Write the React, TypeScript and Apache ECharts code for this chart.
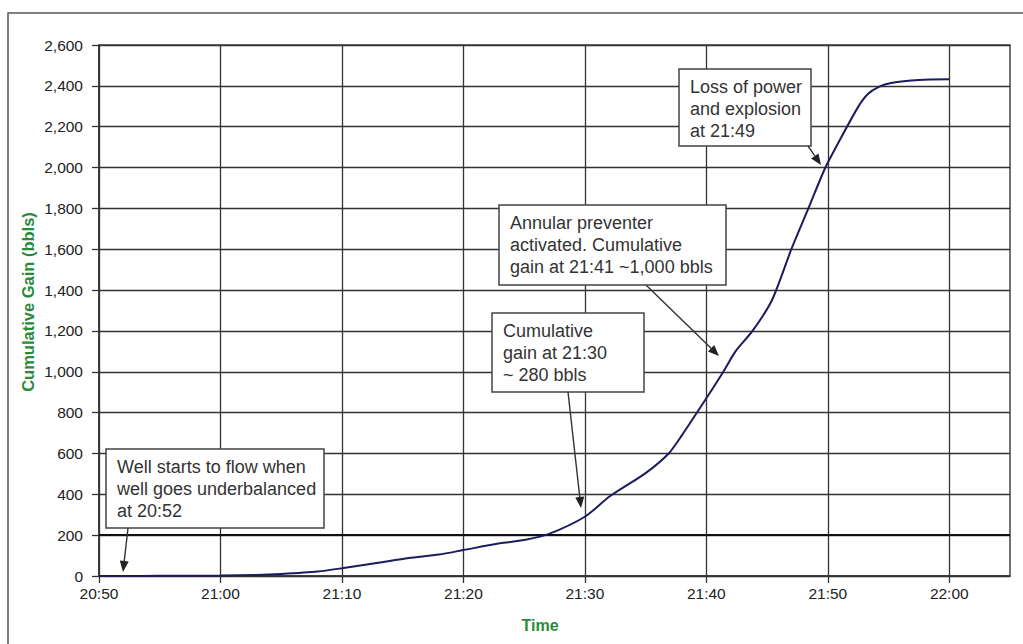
import React, { useEffect, useRef } from 'react';
import * as echarts from 'echarts';

// x tick labels (every 10 minutes from 20:50)
const tickLabels = ['20:50', '21:00', '21:10', '21:20', '21:30', '21:40', '21:50', '22:00'];

// minutes after 20:50
const minutesAfter2050 = [
  0, 2, 5, 10, 13, 15, 18, 20, 23, 25.5, 28, 30, 33, 35, 37, 40, 42, 45, 46.9, 48,
  50, 51.4, 52.4, 53.8, 55.4, 57, 58.4, 59.8, 60.9, 62.5, 63.3, 64.2, 65.2, 67.5, 70,
];
// cumulative gain (bbls)
const cumulativeGain = [
  0, 0, 1, 2, 5, 10, 22, 38, 65, 88, 105, 127, 160, 176, 205, 290, 388, 504, 600, 690,
  870, 1000, 1100, 1200, 1350, 1600, 1800, 2000, 2125, 2297, 2360, 2395, 2414, 2429, 2432,
];

const thresholdValue = 200;

const annotationTexts = [
  'Well starts to flow when\nwell goes underbalanced\nat 20:52',
  'Cumulative\ngain at 21:30\n~ 280 bbls',
  'Annular preventer\nactivated. Cumulative\ngain at 21:41 ~1,000 bbls',
  'Loss of power\nand explosion\nat 21:49',
];

const FONT = '"Liberation Sans", Arial, sans-serif';

// layout of annotation boxes / arrows (pixels)
const boxes = [
  { x: 106, y: 449, w: 218, h: 79 },
  { x: 492, y: 313, w: 152, h: 79 },
  { x: 499, y: 205, w: 227, h: 80 },
  { x: 679, y: 69, w: 132, h: 77 },
];
const arrows = [
  [128, 528, 123, 572],
  [568, 392, 581, 508],
  [646, 285, 719, 356],
  [808, 146, 821, 165],
];

function arrowElements(a: number[]) {
  const [x1, y1, x2, y2] = a;
  const dx = x2 - x1;
  const dy = y2 - y1;
  const len = Math.sqrt(dx * dx + dy * dy);
  const ux = dx / len;
  const uy = dy / len;
  const hl = 11;
  const hw = 4.5;
  const bx = x2 - ux * hl;
  const by = y2 - uy * hl;
  return [
    {
      type: 'line',
      shape: { x1, y1, x2: bx, y2: by },
      style: { stroke: '#333', lineWidth: 1.4 },
      z: 20,
    },
    {
      type: 'polygon',
      shape: {
        points: [
          [x2, y2],
          [bx - uy * hw, by + ux * hw],
          [bx + uy * hw, by - ux * hw],
        ],
      },
      style: { fill: '#222' },
      z: 20,
    },
  ];
}

export default function App() {
  const ref = useRef<HTMLDivElement>(null);

  useEffect(() => {
    if (!ref.current) return;
    const chart = echarts.init(ref.current, undefined, { renderer: 'svg' });

    const graphics: any[] = [
      {
        type: 'rect',
        shape: { x: 8, y: 13, width: 1200, height: 800 },
        style: { fill: 'none', stroke: '#555', lineWidth: 1.5 },
        z: 0,
        silent: true,
      },
      {
        type: 'text',
        x: 28,
        y: 302,
        rotation: Math.PI / 2,
        style: {
          text: 'Cumulative Gain (bbls)',
          fill: '#2a8a3a',
          font: `bold 16.5px ${FONT}`,
          align: 'center',
          verticalAlign: 'middle',
        },
        z: 10,
      },
      {
        type: 'text',
        x: 540,
        y: 625,
        style: {
          text: 'Time',
          fill: '#2a8a3a',
          font: `bold 16px ${FONT}`,
          align: 'center',
          verticalAlign: 'middle',
        },
        z: 10,
      },
    ];

    boxes.forEach((b, i) => {
      graphics.push({
        type: 'rect',
        shape: { x: b.x, y: b.y, width: b.w, height: b.h },
        style: { fill: '#fff', stroke: '#444', lineWidth: 1.5 },
        z: 15,
      });
      graphics.push({
        type: 'text',
        x: b.x + 11,
        y: b.y + 7,
        style: {
          text: annotationTexts[i],
          fill: '#333',
          font: `18px ${FONT}`,
          lineHeight: 22,
          align: 'left',
          verticalAlign: 'top',
        },
        z: 16,
      });
    });
    arrows.forEach((a) => graphics.push(...arrowElements(a)));

    chart.setOption({
      animation: false,
      backgroundColor: '#fff',
      grid: {
        left: 99,
        right: 13,
        top: 45,
        bottom: 68,
        show: true,
        borderColor: '#444',
        borderWidth: 1.5,
        backgroundColor: 'transparent',
      },
      xAxis: {
        type: 'value',
        min: 0,
        max: 75,
        interval: 10,
        axisLine: { show: true, lineStyle: { color: '#333', width: 1.5 } },
        axisTick: {
          show: true,
          inside: false,
          length: 7,
          lineStyle: { color: '#333', width: 1.3 },
          customValues: [0, 10, 20, 30, 40, 50, 60, 70],
        },
        axisLabel: {
          color: '#222',
          fontSize: 15.5,
          fontFamily: FONT,
          margin: 9,
          customValues: [0, 10, 20, 30, 40, 50, 60, 70],
          formatter: (v: number) => {
            const idx = Math.round(v / 10);
            return Math.abs(v - idx * 10) < 1e-6 && tickLabels[idx] ? tickLabels[idx] : '';
          },
        },
        splitLine: { show: true, lineStyle: { color: '#333', width: 1.3 } },
      },
      yAxis: {
        type: 'value',
        min: 0,
        max: 2600,
        interval: 200,
        axisLine: { show: true, lineStyle: { color: '#333', width: 1.5 } },
        axisTick: { show: true, inside: false, length: 7, lineStyle: { color: '#333', width: 1.3 } },
        axisLabel: {
          color: '#222',
          fontSize: 15.5,
          fontFamily: FONT,
          margin: 16,
          formatter: (v: number) => v.toLocaleString('en-US'),
        },
        splitLine: { show: true, lineStyle: { color: '#333', width: 1.3 } },
      },
      series: [
        {
          type: 'line',
          data: minutesAfter2050.map((m, i) => [m, cumulativeGain[i]]),
          showSymbol: false,
          smooth: 0.25,
          lineStyle: { color: '#1c1c5c', width: 2 },
          z: 5,
          markLine: {
            silent: true,
            symbol: ['none', 'none'],
            label: { show: false },
            lineStyle: { color: '#111', width: 2, type: 'solid' },
            data: [{ yAxis: thresholdValue }],
            z: 4,
          },
        },
      ],
      graphic: graphics,
    });

    return () => chart.dispose();
  }, []);

  return (
    <div
      ref={ref}
      style={{ position: 'absolute', left: 0, top: 0, width: 1023, height: 644 }}
    />
  );
}
